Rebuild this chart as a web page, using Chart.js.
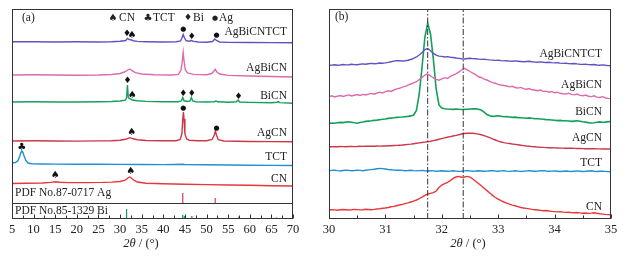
<!DOCTYPE html>
<html><head><meta charset="utf-8">
<script src="https://cdn.jsdelivr.net/npm/chart.js@4/dist/chart.umd.min.js"></script>
<style>
html,body{margin:0;padding:0;background:#fff;}
#wrap{position:relative;width:627px;height:258px;overflow:hidden;background:#fff;}
#ca{position:absolute;left:0;top:0;width:305px;height:258px;}
#cb{position:absolute;left:305px;top:0;width:322px;height:258px;}
</style></head><body>
<div id="wrap"><canvas id="ca" width="305" height="258"></canvas><canvas id="cb" width="322" height="258"></canvas></div>
<script>
// ---------- Panel (a): full-range XRD patterns (2θ, stacked intensity a.u.) ----------
const aAgBiCNTCT = [[5,177.2],[10,177.3],[15,177.0],[20,177.2],[25,177.0],[28,177.3],[30,177.8],[31.3,178.5],[31.7,180.5],[32.1,179.5],[32.5,179.2],[33,178.3],[34,177.6],[36,177.3],[40,177.0],[43,177.2],[44,178],[44.3,181],[44.6,184.5],[44.9,181],[45.3,178.2],[46.2,177.8],[46.5,178.6],[46.8,177.8],[48,177],[50,176.8],[51.4,177.5],[51.9,180],[52.3,178.5],[53,177],[55,176.6],[60,176.5],[65,176.4],[70,176.2]];
const aAgBiCN = [[5,144],[10,144.2],[15,144],[20,143.8],[25,144],[28,144.5],[30,145.5],[31,147],[31.8,149],[32.2,150],[32.6,148.8],[33.5,146.3],[35,145],[38,144.3],[42,144],[43.5,144.6],[44.1,149],[44.4,158],[44.6,166.5],[44.8,158],[45.1,149],[45.6,146],[47,144.6],[50,144.2],[51.2,145.5],[51.7,148],[52,149.7],[52.4,147],[53,145],[55,143.6],[60,143],[65,142.5],[70,142]];
const aBiCN = [[5,117],[10,117.2],[15,117],[20,117],[25,117.2],[28,117.5],[30,118],[31.2,118.8],[31.5,121],[31.7,134],[31.9,122],[32.1,120.5],[32.4,120.3],[32.8,119],[34,118.2],[36,117.6],[40,117.2],[43.5,117.3],[44.2,118.2],[44.5,121.5],[44.8,118.2],[45.6,117.5],[46.2,118],[46.5,121.5],[46.8,118],[47.5,117.3],[50,117],[51.8,117.3],[52.2,118],[52.6,117.2],[55,116.8],[56.9,117.2],[57.3,119],[57.7,117],[60,116.6],[65,116.2],[66.3,116.8],[66.6,117.4],[66.9,116.4],[70,115.7]];
const aAgCN = [[5,78],[10,78.2],[15,78],[20,77.9],[25,78.1],[28,78.3],[30,78.8],[31.5,80],[32.3,81.3],[33,80.2],[34,79.2],[36,78.5],[40,78.2],[43,78.3],[43.9,79.5],[44.3,85],[44.5,100],[44.65,107],[44.8,100],[45,85],[45.4,80],[46,78.8],[48,78.2],[50,78.2],[51.3,79.5],[51.8,84],[52.05,88],[52.3,84],[52.7,79.3],[54,78],[57,77.7],[60,77.5],[65,77.4],[70,77.3]];
const aTCT = [[5,56],[5.8,56.5],[6.4,58.5],[6.8,63],[7.1,67],[7.3,68],[7.5,67],[7.8,63],[8.2,58.5],[8.7,56],[9.5,55.2],[12,55],[15,54.9],[20,54.8],[25,54.8],[30,54.6],[35,54.5],[40,54.4],[44.6,54.7],[45,54.4],[50,54.2],[55,54],[60,53.8],[65,53.6],[70,53.5]];
const aCN = [[5,35.5],[8,35.7],[12,36],[14,36.6],[15,37.3],[16,36.8],[18,36.4],[22,36.4],[26,36.6],[28,36.9],[30,37.5],[31.2,38.8],[31.8,41],[32.2,42],[32.6,41],[33.2,38.8],[34,37],[36,35.8],[40,35.2],[45,34.8],[50,34.4],[55,34],[60,33.7],[65,33.3],[70,33]];
// standard reference sticks
const pdfAgPos = [44.5, 52.0];
const pdfAgInt = [10, 5];
const pdfBiPos = [31.5, 44.5, 44.9, 46.6, 52.6, 57.5, 66.2];
const pdfBiInt = [10, 4, 3, 3, 1.5, 2.5, 1.5];
// phase markers above peaks: [2θ, level, symbol]
const aMarkers = [
  [31.6,185.7,'♦'],[32.75,184,'♠'],[44.6,190,'●'],[46.6,182.7,'♦'],[52.3,184,'●'],
  [31.7,138.3,'♦'],[32.8,123.3,'♠'],[44.6,125.7,'♦'],[46.6,125.7,'♦'],[57.4,122,'♦'],
  [44.6,110.7,'●'],[32.7,86.7,'♠'],[52.3,91.3,'●'],
  [7.25,71.7,'♣'],
  [15.0,44,'♠'],[32.45,47.3,'♠']
];
const aTicks = [5,10,15,20,25,30,35,40,45,50,55,60,65,70];

// ---------- Panel (b): 30–35° detail ----------
const bX = [30.00,30.05,30.10,30.15,30.20,30.25,30.30,30.35,30.40,30.45,30.50,30.55,30.60,30.65,30.70,30.75,30.80,30.85,30.90,30.95,
31.00,31.05,31.10,31.15,31.20,31.25,31.30,31.35,31.40,31.45,31.50,31.55,31.60,31.65,31.70,31.75,31.80,31.85,31.90,31.95,
32.00,32.05,32.10,32.15,32.20,32.25,32.30,32.35,32.40,32.45,32.50,32.55,32.60,32.65,32.70,32.75,32.80,32.85,32.90,32.95,
33.00,33.05,33.10,33.15,33.20,33.25,33.30,33.35,33.40,33.45,33.50,33.55,33.60,33.65,33.70,33.75,33.80,33.85,33.90,33.95,
34.00,34.05,34.10,34.15,34.20,34.25,34.30,34.35,34.40,34.45,34.50,34.55,34.60,34.65,34.70,34.75,34.80,34.85,34.90,34.95,35.00];
const bAgBiCNTCT = [153.7,153.9,154.2,153.8,154.0,154.5,154.1,154.3,154.8,154.4,154.2,154.7,155.1,154.8,155.2,155.6,155.3,155.5,156.0,155.7,
156.1,156.6,157.3,157.9,158.2,158.4,158.0,158.3,158.8,159.5,160.6,162.0,164.0,166.6,169.5,170.5,168.2,165.6,163.8,162.9,
162.6,162.0,162.4,161.7,161.5,161.0,160.6,160.2,160.0,160.5,160.8,160.4,160.2,159.9,159.6,159.8,159.4,159.1,158.9,158.6,
158.8,158.4,158.1,158.3,157.9,157.7,158.1,157.8,157.5,157.2,157.5,157.8,157.3,157.0,156.8,157.1,156.7,156.5,156.8,156.4,
156.1,156.3,155.9,155.6,155.8,155.4,155.2,155.5,155.1,154.8,154.6,154.9,154.4,154.2,154.5,154.0,153.8,154.1,153.7,153.4,153.3];
const bAgBiCN = [122.3,123.2,122.0,122.8,123.5,122.6,123.4,124.1,123.0,123.7,124.4,123.5,124.6,124.0,124.9,125.6,124.8,126.0,126.8,126.1,
127.3,128.2,127.6,129.0,130.1,130.7,131.9,132.6,133.8,135.0,136.2,137.3,139.4,141.6,144.0,145.0,143.2,141.0,139.6,138.8,
140.2,141.3,140.5,142.6,143.8,145.2,146.9,149.0,150.6,149.2,147.5,145.9,144.4,142.2,141.5,139.8,139.0,137.6,136.4,135.8,
134.6,134.0,133.5,133.0,132.1,132.7,131.5,130.9,131.6,130.4,129.8,130.5,129.2,129.0,128.3,128.9,127.6,127.9,126.8,127.4,
126.2,126.8,125.7,125.2,125.0,125.8,124.6,124.1,124.9,123.6,123.2,124.0,122.8,122.4,123.2,121.9,121.5,122.3,121.0,120.6,120.3];
const bBiCN = [95.7,96.0,95.8,96.3,96.6,96.4,96.9,97.3,96.8,96.2,95.8,96.5,97.0,97.6,97.9,98.2,98.6,98.9,99.3,99.7,
100.0,100.6,100.9,101.2,101.6,101.8,102.0,102.3,102.6,103.1,104.0,108.5,125.0,152.0,182.0,195.7,185.0,160.0,130.0,114.0,
111.0,110.3,110.0,109.8,109.6,109.9,109.7,109.5,109.6,109.8,110.0,110.2,110.1,109.8,109.0,106.8,104.5,103.2,102.6,102.9,
103.3,102.8,102.3,102.4,102.0,101.6,101.9,101.4,101.2,101.0,100.8,101.1,100.7,100.4,100.2,100.0,99.7,99.4,99.2,99.0,
98.7,98.4,98.6,98.2,98.3,98.0,97.6,97.9,98.2,97.8,97.3,96.9,96.4,96.0,96.3,96.8,97.1,96.7,96.9,97.4,97.3];
const bAgCN = [72.3,72.4,72.2,72.3,72.5,72.4,72.3,72.5,72.6,72.4,72.5,72.7,72.6,72.8,72.7,72.9,72.8,73.0,72.9,73.1,
73.0,73.2,73.3,73.5,73.6,73.8,74.0,74.3,74.6,74.9,75.3,75.7,76.1,76.5,76.9,77.3,77.8,78.4,79.0,79.7,
80.4,81.1,81.8,82.4,83.0,83.6,84.3,85.0,85.5,85.8,85.9,85.7,85.4,84.9,84.2,83.4,82.4,81.3,80.2,79.0,
77.8,77.0,76.4,75.9,75.5,75.0,74.6,74.2,73.8,73.4,73.0,72.7,72.4,72.2,71.9,71.7,71.6,71.4,71.3,71.2,
71.1,71.0,70.9,70.9,70.8,70.7,70.7,70.6,70.5,70.5,70.4,70.3,70.3,70.2,70.2,70.1,70.1,70.0,70.0,70.0,69.9];
const bTCT = [48.3,48.6,48.9,48.4,48.0,48.5,48.9,48.6,48.2,48.5,48.9,48.6,48.3,48.7,49.1,49.4,49.7,50.2,50.6,50.4,
50.0,49.5,49.2,48.9,48.7,48.9,48.6,48.3,48.5,48.8,48.4,48.1,48.4,48.6,48.2,48.0,48.3,48.1,47.8,48.0,
48.3,48.0,47.7,47.9,48.2,47.9,47.6,47.8,48.1,48.4,48.1,47.8,48.0,48.3,48.0,47.7,47.9,48.2,48.4,48.0,
47.8,48.1,48.3,47.9,47.6,47.9,48.2,47.9,47.6,47.8,48.1,48.3,48.0,47.7,47.9,48.2,48.4,48.0,47.7,47.9,
48.1,47.8,47.5,47.8,48.0,47.7,47.5,47.8,48.1,47.8,47.5,47.7,48.0,48.2,47.8,47.5,47.7,47.9,47.6,47.4,47.3];
const bCN = [9.0,9.3,9.1,8.8,9.2,9.5,9.3,9.0,9.2,9.6,9.4,9.1,9.3,9.7,9.5,9.3,9.6,10.0,10.3,10.7,
11.0,11.5,12.2,12.6,13.3,14.0,14.6,15.4,16.1,17.0,17.9,19.0,20.3,21.8,23.6,25.0,25.6,26.4,28.0,31.5,
34.0,35.3,36.5,38.4,40.6,42.0,42.6,41.8,42.0,42.6,41.8,40.0,37.8,35.5,33.2,30.8,28.4,26.0,23.6,21.5,
19.8,18.3,17.0,15.9,14.8,13.9,13.2,12.4,11.5,11.0,10.6,10.1,9.6,9.3,9.0,8.6,8.2,8.5,8.0,7.6,
7.4,7.1,7.3,6.9,6.6,6.8,6.4,6.2,6.5,6.1,5.8,6.0,5.6,5.9,6.3,5.7,5.2,4.9,4.6,4.4,4.1];
const bRefLines = [31.75, 32.38];
const bTicks = [30,31,32,33,34,35];

// ---------- styling ----------
const COL = {AgBiCNTCT:'#6650c0', AgBiCN:'#dd6aae', BiCN:'#13a05a', AgCN:'#cc3848', TCT:'#2090d0', CN:'#e8373a'};
const SERIF = '"Liberation Serif","Times New Roman",serif';
const SYM = '"DejaVu Sans",sans-serif';
const pairs = a => a.map(p => ({x:p[0], y:p[1]}));
const zipXY = (xs, ys) => xs.map((x,i) => ({x, y:ys[i]}));
const line = (label, data, color, w) => ({label, data, borderColor:color, borderWidth:w||1.4, pointRadius:0, showLine:true, fill:false, tension:0});

function sticks(pos, inten, base){
  const d=[];
  pos.forEach((p,i)=>{ d.push({x:p,y:base}); d.push({x:p,y:base+inten[i]}); d.push({x:p,y:null}); });
  return d;
}

function drawFrame(chart, minorStep, majorStep){
  const {ctx, chartArea:a, scales:{x}} = chart;
  ctx.save();
  ctx.strokeStyle='#333'; ctx.lineWidth=1;
  const L=Math.round(a.left)+0.5, T=Math.round(a.top)+0.5, R=Math.round(a.right)-0.5, B=Math.round(a.bottom)-0.5;
  ctx.strokeRect(L,T,R-L,B-T);
  ctx.beginPath();
  const n = Math.round((x.max-x.min)/minorStep);
  for(let i=0;i<=n;i++){
    const v = x.min + i*minorStep;
    const px = Math.round(x.getPixelForValue(v))+0.5;
    const isMajor = Math.abs(v/majorStep - Math.round(v/majorStep))<1e-6;
    ctx.moveTo(px,B); ctx.lineTo(px,B-(isMajor?4:3));
  }
  ctx.stroke();
  ctx.restore();
}
function drawTitle(chart, cx){
  const {ctx, chartArea:a} = chart;
  ctx.save();
  ctx.fillStyle='#222'; ctx.textBaseline='middle';
  const y = a.bottom + 25;
  ctx.font='italic 12.5px '+SERIF; const w1=ctx.measureText('2θ').width;
  ctx.font='12.5px '+SERIF; const w2=ctx.measureText(' / (°)').width;
  let x0 = cx - (w1+w2)/2;
  ctx.textAlign='left';
  ctx.font='italic 12.5px '+SERIF; ctx.fillText('2θ', x0, y);
  ctx.font='12.5px '+SERIF; ctx.fillText(' / (°)', x0+w1, y);
  ctx.restore();
}
function txt(ctx, s, x, y, align, font, color){
  ctx.font=font; ctx.textAlign=align; ctx.textBaseline='middle'; ctx.fillStyle=color||'#222'; ctx.fillText(s,x,y);
}

const xAxisBase = (min,max,ticks) => ({
  type:'linear', min, max,
  afterBuildTicks: s => { s.ticks = ticks.map(v=>({value:v})); },
  grid:{display:false, drawTicks:false},
  border:{display:false},
  ticks:{font:{family:SERIF,size:12.5}, color:'#222', padding:3, maxRotation:0, autoSkip:false},
  afterFit: s => { s.height = 39; }
});

// ---------- chart (a) ----------
const panelA = {
  id:'panelA',
  afterDraw(chart){
    const {ctx, chartArea:a, scales:{x,y}} = chart;
    drawFrame(chart, 2.5, 5);
    ctx.save();
    // separator between reference sticks
    ctx.strokeStyle='#333'; ctx.lineWidth=1;
    const ys = Math.round(y.getPixelForValue(16))+0.5;
    ctx.beginPath(); ctx.moveTo(a.left,ys); ctx.lineTo(a.right,ys); ctx.stroke();
    const F = '11.5px '+SERIF;
    const r = a.right - 6;
    txt(ctx,'AgBiCNTCT', r, 32, 'right', F);
    txt(ctx,'AgBiCN', r, 68, 'right', F);
    txt(ctx,'BiCN', r, 96, 'right', F);
    txt(ctx,'AgCN', r, 133, 'right', F);
    txt(ctx,'TCT', r, 157, 'right', F);
    txt(ctx,'CN', r, 179, 'right', F);
    txt(ctx,'PDF No.87-0717 Ag', a.left+3, 193, 'left', F);
    txt(ctx,'PDF No.85-1329 Bi', a.left+3, 211, 'left', F);
    txt(ctx,'(a)', a.left+10, 18, 'left', F);
    // legend
    txt(ctx,'♠', 113, 18, 'center', '10px '+SYM);
    txt(ctx,'CN', 119, 18, 'left', F);
    txt(ctx,'♣', 148, 18, 'center', '10px '+SYM);
    txt(ctx,'TCT', 153, 18, 'left', F);
    txt(ctx,'♦', 188, 18, 'center', '9px '+SYM);
    txt(ctx,'Bi', 193, 18, 'left', F);
    txt(ctx,'●', 215, 18, 'center', '7px '+SYM);
    txt(ctx,'Ag', 219, 18, 'left', F);
    // peak markers
    aMarkers.forEach(m=>{
      const fs = m[2]==='●' ? 7 : (m[2]==='♦' ? 9 : 10);
      txt(ctx, m[2], x.getPixelForValue(m[0]), y.getPixelForValue(m[1]), 'center', fs+'px '+SYM, '#111');
    });
    ctx.restore();
    drawTitle(chart, a.left + 129);
  }
};

new Chart(document.getElementById('ca'), {
  type:'scatter',
  data:{datasets:[
    line('AgBiCNTCT', pairs(aAgBiCNTCT), COL.AgBiCNTCT),
    line('AgBiCN', pairs(aAgBiCN), COL.AgBiCN),
    line('BiCN', pairs(aBiCN), COL.BiCN),
    line('AgCN', pairs(aAgCN), COL.AgCN),
    line('TCT', pairs(aTCT), COL.TCT),
    line('CN', pairs(aCN), COL.CN),
    line('PDF Ag', sticks(pdfAgPos,pdfAgInt,16), '#d04050', 1.2),
    line('PDF Bi', sticks(pdfBiPos,pdfBiInt,0), '#18a060', 1.3)
  ]},
  options:{
    responsive:false, animation:false, devicePixelRatio:1,
    layout:{padding:{left:12, right:12, top:9, bottom:0}},
    plugins:{legend:{display:false}, tooltip:{enabled:false}},
    scales:{
      x: xAxisBase(5,70,aTicks),
      y: {type:'linear', min:0, max:210, display:false}
    }
  },
  plugins:[panelA]
});

// ---------- chart (b) ----------
const panelB = {
  id:'panelB',
  afterDraw(chart){
    const {ctx, chartArea:a} = chart;
    drawFrame(chart, 0.5, 1);
    ctx.save();
    const F = '11.5px '+SERIF;
    const r = a.right - 9;
    txt(ctx,'AgBiCNTCT', r, 54, 'right', F);
    txt(ctx,'AgBiCN', r, 85, 'right', F);
    txt(ctx,'BiCN', r, 112, 'right', F);
    txt(ctx,'AgCN', r, 138, 'right', F);
    txt(ctx,'TCT', r, 163, 'right', F);
    txt(ctx,'CN', r, 207, 'right', F);
    txt(ctx,'(b)', a.left+6, 17, 'left', F);
    ctx.restore();
    drawTitle(chart, (a.left+a.right)/2 - 2);
  }
};

const refDs = bRefLines.map(v => ({label:'ref', data:[{x:v,y:0},{x:v,y:210}], borderColor:'#333', borderWidth:1, borderDash:[6,2,1.5,2], pointRadius:0, showLine:true, fill:false}));

new Chart(document.getElementById('cb'), {
  type:'scatter',
  data:{datasets:[
    ...refDs,
    line('AgBiCNTCT', zipXY(bX,bAgBiCNTCT), COL.AgBiCNTCT),
    line('AgBiCN', zipXY(bX,bAgBiCN), COL.AgBiCN),
    line('BiCN', zipXY(bX,bBiCN), COL.BiCN, 1.6),
    line('AgCN', zipXY(bX,bAgCN), COL.AgCN),
    line('TCT', zipXY(bX,bTCT), COL.TCT),
    line('CN', zipXY(bX,bCN), COL.CN)
  ]},
  options:{
    responsive:false, animation:false, devicePixelRatio:1,
    layout:{padding:{left:24, right:16, top:9, bottom:0}},
    plugins:{legend:{display:false}, tooltip:{enabled:false}},
    scales:{
      x: xAxisBase(30,35,bTicks),
      y: {type:'linear', min:0, max:210, display:false}
    }
  },
  plugins:[panelB]
});
</script>
</body></html>
